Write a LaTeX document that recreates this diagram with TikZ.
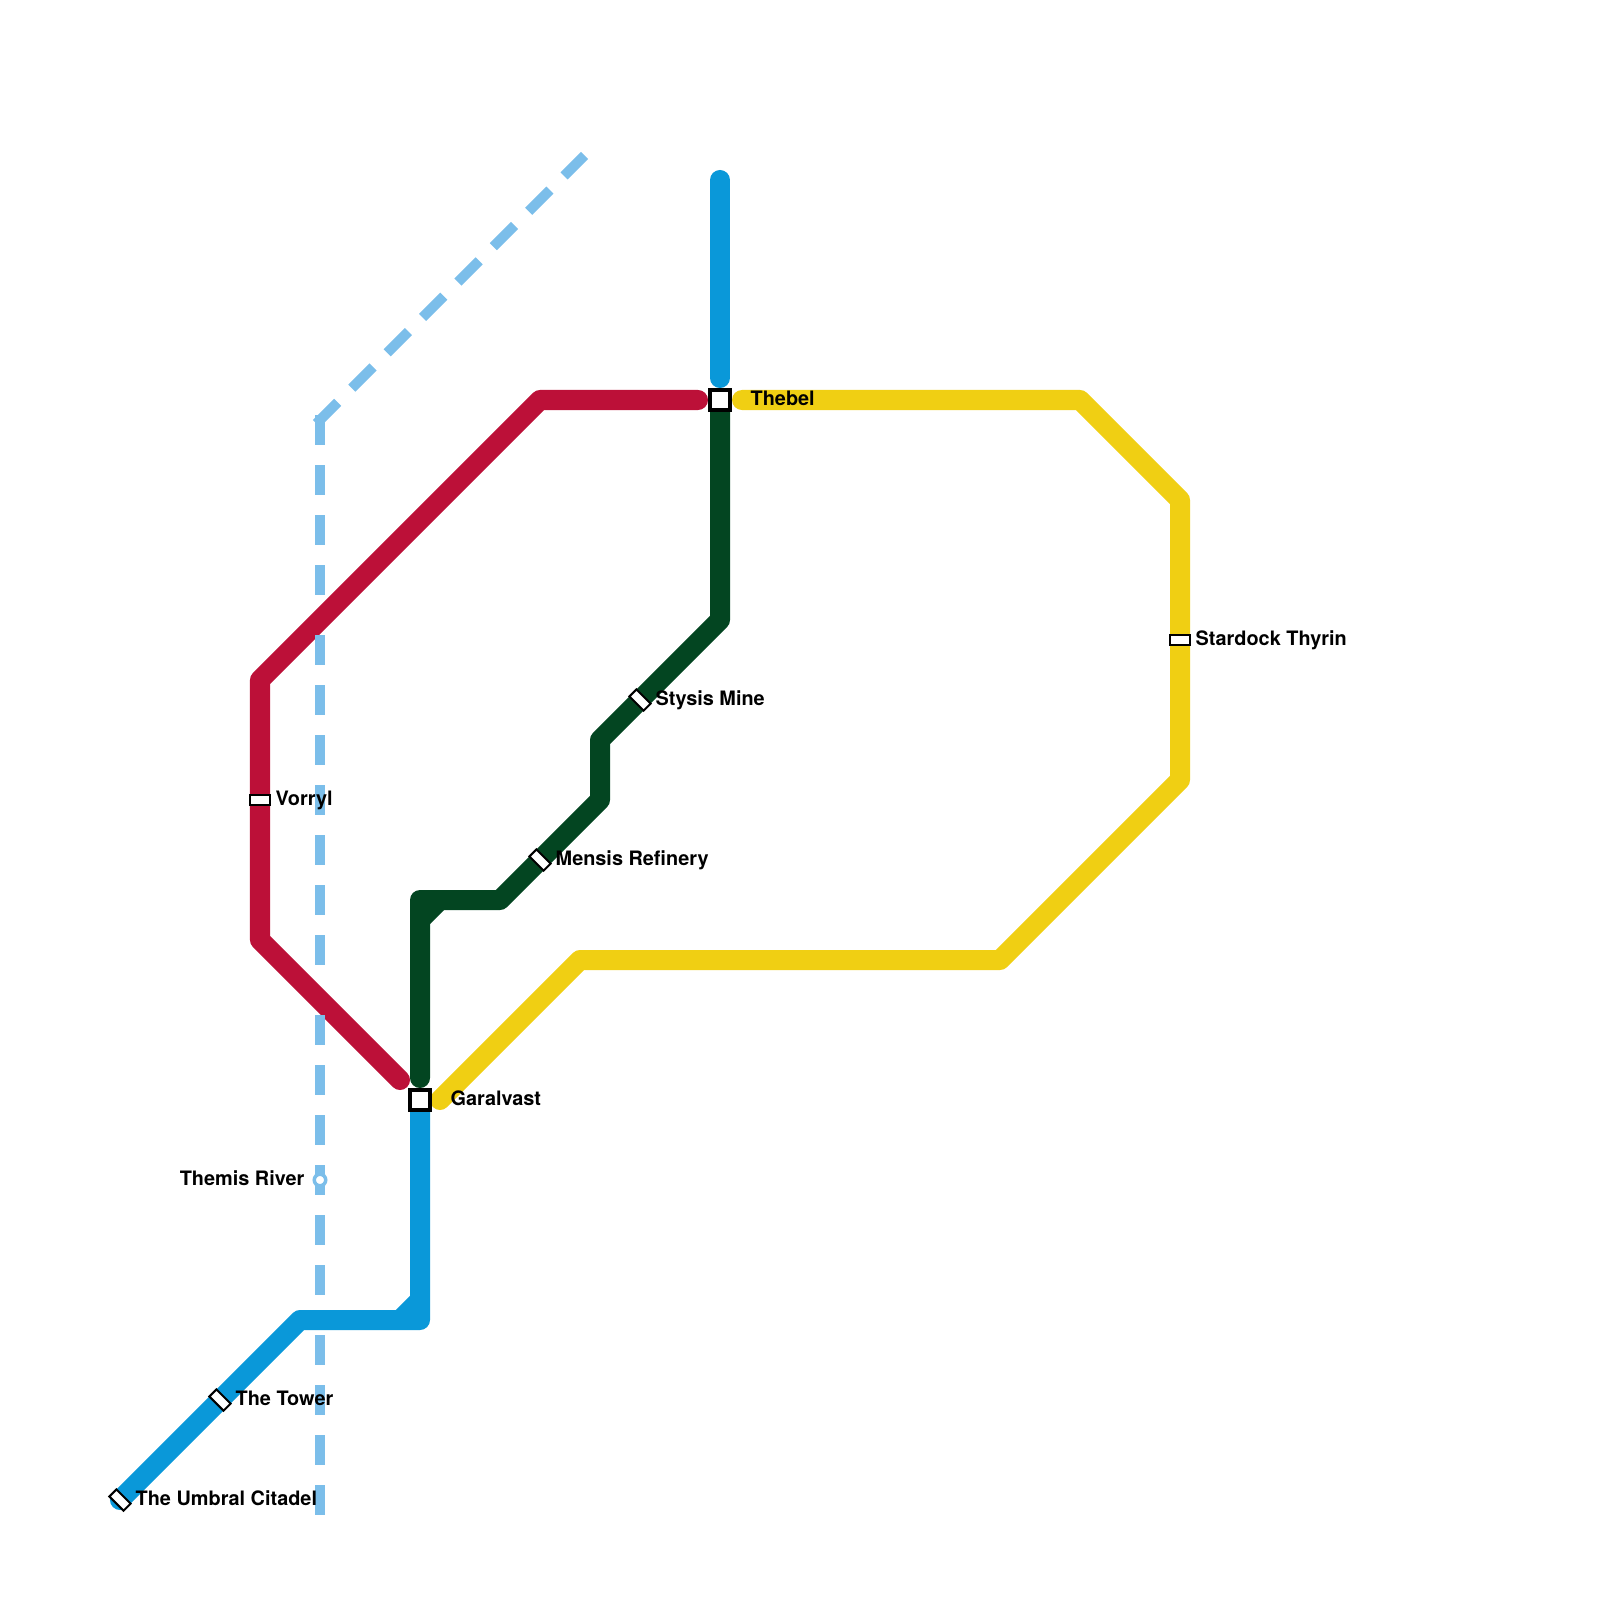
\documentclass[tikz,border=0pt]{standalone}
\usepackage{fontspec}
\setmainfont{TeX Gyre Heros}
\usetikzlibrary{positioning,calc}
\definecolor{riverblue}{HTML}{7BBEEA}
\definecolor{lineblue}{HTML}{0A98D9}
\definecolor{linered}{HTML}{BC1038}
\definecolor{linegreen}{HTML}{034521}
\definecolor{lineyellow}{HTML}{F0CF13}
\tikzset{
  metro/.style={line width=0.2cm, line cap=round, line join=round},
  river/.style={line width=0.1cm, draw=riverblue, line cap=rect, dash pattern=on 0.2cm off 0.3cm},
  hub/.style={rectangle, draw=black, line width=0.04cm, fill=white, minimum size=0.2cm, inner sep=0pt},
  tick/.style={rectangle, draw=black, line width=0.02cm, fill=white, minimum width=0.2cm, minimum height=0.1cm, inner sep=0pt},
  halt/.style={circle, draw=riverblue, line width=0.035cm, fill=white, minimum size=0.115cm, inner sep=0pt, outer sep=0pt},
  lbl/.style={font=\fontsize{5.65}{7}\selectfont\bfseries, inner sep=0pt, text=black},
}
\begin{document}
\begin{tikzpicture}[x=0.01cm, y=-0.01cm]
  \useasboundingbox (0,0) rectangle (1600,1600);
  % stations
  \coordinate (thebelpos) at (720,400);
  \coordinate (garalpos) at (420,1100);
  % blue line
  \coordinate (b1) at (720,180);
  \coordinate (b2) at (720,378);
  \coordinate (b3) at (420,1320);
  \coordinate (b4) at (300,1320);
  \coordinate (b5) at (120,1500);
  \coordinate (b6) at (420,1300);
  \coordinate (b7) at (400,1320);
  \draw[metro, lineblue] (b1) -- (b2);
  \draw[metro, lineblue] (garalpos) -- (b3) -- (b4) -- (b5);
  \draw[metro, lineblue, line cap=butt] (b6) -- (b7);
  % red line
  \coordinate (c1) at (698,400);
  \coordinate (c2) at (540,400);
  \coordinate (c3) at (260,680);
  \coordinate (c4) at (260,940);
  \coordinate (c5) at (400,1080);
  \draw[metro, linered] (c1) -- (c2) -- (c3) -- (c4) -- (c5);
  % green line
  \coordinate (g1) at (420,1078);
  \coordinate (g2) at (420,900);
  \coordinate (g3) at (500,900);
  \coordinate (g4) at (600,800);
  \coordinate (g5) at (600,740);
  \coordinate (g6) at (720,620);
  \coordinate (g7) at (420,920);
  \coordinate (g8) at (440,900);
  \draw[metro, linegreen] (g1) -- (g2) -- (g3) -- (g4) -- (g5) -- (g6) -- (thebelpos);
  \draw[metro, linegreen, line cap=butt] (g7) -- (g8);
  % yellow line
  \coordinate (y1) at (440,1100);
  \coordinate (y2) at (580,960);
  \coordinate (y3) at (1000,960);
  \coordinate (y4) at (1180,780);
  \coordinate (y5) at (1180,500);
  \coordinate (y6) at (1080,400);
  \coordinate (y7) at (742,400);
  \draw[metro, lineyellow] (y1) -- (y2) -- (y3) -- (y4) -- (y5) -- (y6) -- (y7);
  % river, broken where it passes the lines
  \coordinate (r1) at (581,159);
  \coordinate (r2) at (320,420);
  \coordinate (r3) at (320,600);
  \coordinate (r4) at (320,640);
  \coordinate (r5) at (320,980);
  \coordinate (r6) at (320,1020);
  \coordinate (r7) at (320,1300);
  \coordinate (r8) at (320,1340);
  \coordinate (r9) at (320,1510);
  \draw[river] (r2) -- (r1);
  \draw[river] (r2) -- (r3);
  \draw[river] (r4) -- (r5);
  \draw[river] (r6) -- (r7);
  \draw[river] (r8) -- (r9);
  % station marks
  \node[hub] (thebel) at (thebelpos) {};
  \node[hub] (garalvast) at (garalpos) {};
  \node[tick] (vorryl) at (260,800) {};
  \node[tick] (stardock) at (1180,640) {};
  \node[tick, rotate=-45] (stysis) at (640,700) {};
  \node[tick, rotate=-45] (mensis) at (540,860) {};
  \node[tick, rotate=-45] (tower) at (220,1400) {};
  \node[tick, rotate=-45] (umbral) at (120,1500) {};
  \node[halt] (themis) at (320,1180) {};
  % labels
  \node[lbl, anchor=base west] at (750,405.5) {Thebel};
  \node[lbl, anchor=base west] at (450,1105.5) {Garalvast};
  \node[lbl, anchor=base west] at (275,805.5) {Vorryl};
  \node[lbl, anchor=base west] at (1195,645.5) {Stardock Thyrin};
  \node[lbl, anchor=base west] at (655,705.5) {Stysis Mine};
  \node[lbl, anchor=base west] at (555,865.5) {Mensis Refinery};
  \node[lbl, anchor=base west] at (235,1405.5) {The Tower};
  \node[lbl, anchor=base west] at (135,1505.5) {The Umbral Citadel};
  \node[lbl, anchor=base east] at (305,1185.5) {Themis River};
\end{tikzpicture}
\end{document}
